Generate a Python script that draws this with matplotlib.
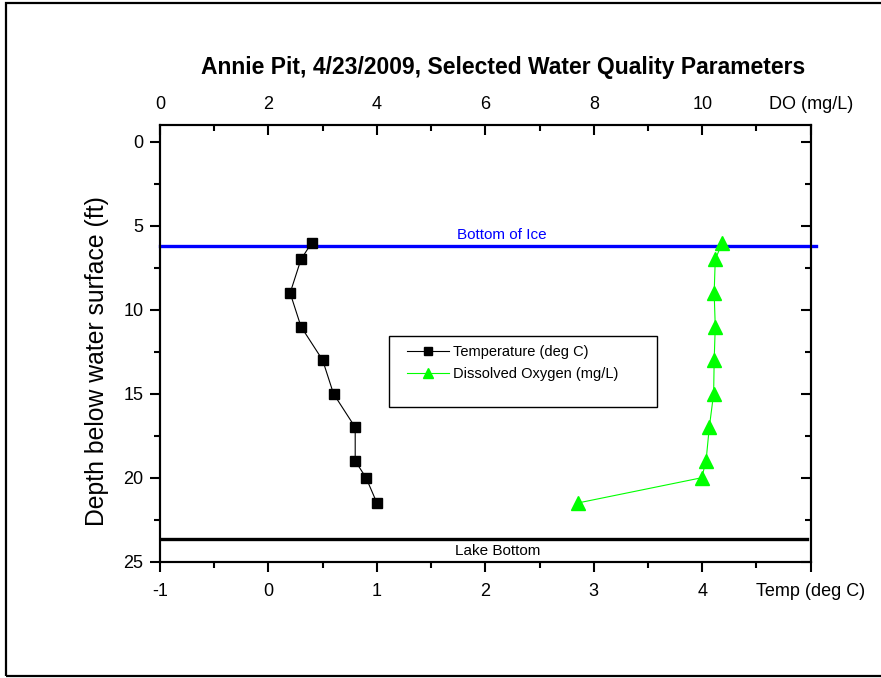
import numpy as np
import matplotlib
matplotlib.use('Agg')
import matplotlib.pyplot as plt
from matplotlib.patches import Rectangle
from matplotlib.ticker import MultipleLocator

plt.rcParams['font.family'] = ['Liberation Sans', 'DejaVu Sans']

# Profile data (depth in ft)
temp_depth = [6, 7, 9, 11, 13, 15, 17, 19, 20, 21.5]
temp_c = [0.4, 0.3, 0.2, 0.3, 0.5, 0.6, 0.8, 0.8, 0.9, 1.0]

do_depth = [6, 7, 9, 11, 13, 15, 17, 19, 20, 21.5]
do_mgl = [10.37, 10.24, 10.22, 10.24, 10.22, 10.21, 10.13, 10.07, 9.99, 7.71]

ice_depth = 6.2
lake_bottom = 23.65

temp_ticks = [-1, 0, 1, 2, 3, 4, 5]
temp_labels = ['-1', '0', '1', '2', '3', '4', 'Temp (deg C)']
do_ticks = [0, 2, 4, 6, 8, 10, 12]
do_labels = ['0', '2', '4', '6', '8', '10', 'DO (mg/L)']
depth_ticks = [0, 5, 10, 15, 20, 25]

fig = plt.figure(figsize=(8.81, 6.78), dpi=100)
ax = fig.add_axes([0.1816, 0.1715, 0.7386, 0.6441])

# frame around the whole figure
fig.patches.append(Rectangle((6 / 881, 2 / 678), 1.0, 1 - 5 / 678, transform=fig.transFigure,
                             fill=False, edgecolor='black', linewidth=1.6))

l1, = ax.plot(temp_c, temp_depth, color='black', marker='s', markersize=7, linewidth=0.8,
              label='Temperature (deg C)', zorder=4)
ax.set_xlim(-1, 5)
ax.set_ylim(25, -1)

ax2 = ax.twiny()
l2, = ax2.plot(do_mgl, do_depth, color='#00ff00', marker='^', markersize=10, linewidth=0.8,
               label='Dissolved Oxygen (mg/L)', zorder=4)
ax2.set_xlim(0, 12)

# reference lines
ax.axhline(ice_depth, xmin=0, xmax=1.008, color='#0000ff', linewidth=2.4, clip_on=False, zorder=3)
ax.axhline(lake_bottom, xmin=0, xmax=0.995, color='black', linewidth=2.4, zorder=3)
ax.text(0.526, ice_depth - 0.25, 'Bottom of Ice', transform=ax.get_yaxis_transform(),
        ha='center', va='bottom', color='#0000ff', fontsize=11)
ax.text(0.519, lake_bottom + 0.3, 'Lake Bottom', transform=ax.get_yaxis_transform(),
        ha='center', va='top', color='black', fontsize=11)

# axes styling
for a in (ax, ax2):
    for s in a.spines.values():
        s.set_linewidth(1.5)

ax.set_xticks(temp_ticks)
ax.set_xticklabels(temp_labels)
ax.xaxis.set_minor_locator(MultipleLocator(0.5))
ax.set_yticks(depth_ticks)
ax.yaxis.set_minor_locator(MultipleLocator(2.5))
ax.tick_params(axis='x', which='both', direction='out', labelsize=13, width=1.5, pad=8)
ax.tick_params(axis='x', which='major', length=7)
ax.tick_params(axis='x', which='minor', length=4)
ax.tick_params(axis='y', which='both', direction='out', labelsize=13, width=1.5, right=True, pad=5)
ax.tick_params(axis='y', which='major', length=7)
ax.tick_params(axis='y', which='minor', length=4)

ax2.set_xticks(do_ticks)
ax2.set_xticklabels(do_labels)
ax2.xaxis.set_minor_locator(MultipleLocator(1))
ax2.tick_params(axis='x', which='both', direction='in', labelsize=13, width=1.5, pad=9)
ax2.tick_params(axis='x', which='major', length=7)
ax2.tick_params(axis='x', which='minor', length=4)

# right spine ticks point inward
for t in ax.yaxis.get_ticklines(minor=False)[1::2]:
    t.set_marker(0)
for t in ax.yaxis.get_ticklines(minor=True)[1::2]:
    t.set_marker(0)

fig.text(0.571, 0.901, 'Annie Pit, 4/23/2009, Selected Water Quality Parameters',
         ha='center', va='center', fontsize=16.5, fontweight='bold')
fig.text(0.11, 0.467, 'Depth below water surface (ft)', rotation=90,
         ha='center', va='center', fontsize=17.8)

# legend box
ax.add_patch(Rectangle((0.352, 0.3542), 0.412, 0.1626, transform=ax.transAxes,
                       fill=False, edgecolor='black', linewidth=1.0, zorder=5))
ax.legend(handles=[l1, l2], loc='upper left', bbox_to_anchor=(0.37, 0.51), frameon=False,
          fontsize=10.5, handlelength=2.9, handletextpad=0.3, labelspacing=0.55,
          borderaxespad=0, markerscale=0.75)

fig.savefig('out.png', dpi=100)
